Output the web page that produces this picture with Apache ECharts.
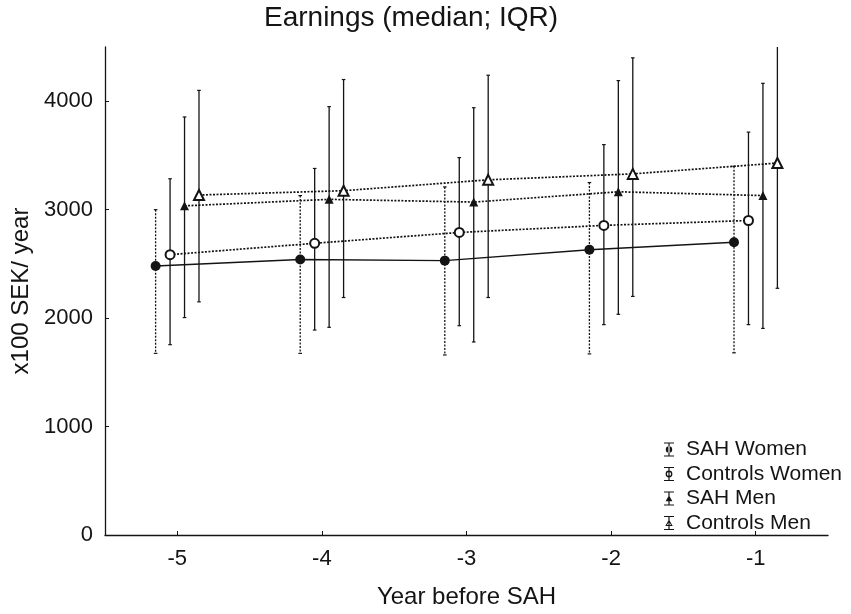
<!DOCTYPE html>
<html lang="en">
<head>
    <meta charset="UTF-8">
    <title>Earnings (median; IQR)</title>
    <script src="https://cdn.jsdelivr.net/npm/echarts@6.0.0/dist/echarts.min.js"></script>
    <style>
        html, body { margin: 0; padding: 0; background: #fff; }
    </style>
</head>
<body>
<div id="main" style="width: 851px;height:614px;"></div>
<script type="text/javascript">
    // years before SAH, groups are dodged a little on x
    var years = [-5, -4, -3, -2, -1];
    var xTicks = [-5, -4, -3, -2, -1];
    var yTicks = [0, 1000, 2000, 3000, 4000];
    var groupNames = ['SAH Women', 'Controls Women', 'SAH Men', 'Controls Men'];
    var dodge = [-0.15, -0.05, 0.05, 0.15];

    // medians and IQR (x100 SEK / year)
    var sahWomenMed = [2480, 2540, 2530, 2630, 2700];
    var sahWomenLow = [1675, 1675, 1660, 1670, 1680];
    var sahWomenHigh = [3000, 3130, 3210, 3250, 3400];

    var ctrlWomenMed = [2585, 2690, 2790, 2855, 2900];
    var ctrlWomenLow = [1755, 1890, 1930, 1940, 1940];
    var ctrlWomenHigh = [3285, 3380, 3480, 3600, 3715];

    var sahMenMed = [3035, 3095, 3070, 3165, 3130];
    var sahMenLow = [2005, 1915, 1780, 2035, 1905];
    var sahMenHigh = [3855, 3950, 3940, 4190, 4165];

    var ctrlMenMed = [3135, 3175, 3275, 3330, 3430];
    var ctrlMenLow = [2150, 2190, 2190, 2200, 2275];
    var ctrlMenHigh = [4100, 4200, 4240, 4400, 4520];

    var meds = [sahWomenMed, ctrlWomenMed, sahMenMed, ctrlMenMed];
    var lows = [sahWomenLow, ctrlWomenLow, sahMenLow, ctrlMenLow];
    var highs = [sahWomenHigh, ctrlWomenHigh, sahMenHigh, ctrlMenHigh];

    var ink = '#141414';
    var font = 'Liberation Sans, Arial, sans-serif';
    var dots = [2, 1.5];
    var symbols = ['circle', 'emptyCircle', 'triangle', 'emptyTriangle'];
    var symbolSizes = [10, 9, 9, 10];
    var lineDashes = ['solid', dots, dots, dots];
    var barDashes = [dots, null, null, null];

    // legend glyphs: error bar with the marker on it (10 x 14 box)
    var beam = 'M0,0H10V1H0Z M0,13H10V14H0Z M4.4,0H5.6V14H4.4Z ';
    var legendIcons = [
        'path://' + beam + 'M1.8,7A3.2,3.2,0,1,0,8.2,7A3.2,3.2,0,1,0,1.8,7Z',
        'path://' + beam + 'M1.6,7A3.4,3.4,0,1,1,8.4,7A3.4,3.4,0,1,1,1.6,7Z M2.9,7A2.1,2.1,0,1,0,7.1,7A2.1,2.1,0,1,0,2.9,7Z',
        'path://' + beam + 'M1.6,9.8L5,3.8L8.4,9.8Z',
        'path://' + beam + 'M1.3,10L5,3.5L8.7,10Z M3,9L7,9L5,5.5Z'
    ];

    function makeErrRender(dash) {
        return function (params, api) {
            var x = api.value(0);
            var top = api.coord([x, api.value(2)]);
            var bot = api.coord([x, api.value(1)]);
            var cap = 1.8;
            var st = { stroke: ink, lineWidth: 1.3, lineDash: dash || null };
            var capSt = { stroke: ink, lineWidth: 1.2 };
            return {
                type: 'group',
                children: [
                    { type: 'line', shape: { x1: top[0], y1: top[1], x2: bot[0], y2: bot[1] }, style: st },
                    { type: 'line', shape: { x1: top[0] - cap, y1: top[1], x2: top[0] + cap, y2: top[1] }, style: capSt },
                    { type: 'line', shape: { x1: bot[0] - cap, y1: bot[1], x2: bot[0] + cap, y2: bot[1] }, style: capSt }
                ]
            };
        };
    }

    var series = [];
    for (var g = 0; g < groupNames.length; g++) {
        var barData = [];
        var lineData = [];
        for (var i = 0; i < years.length; i++) {
            var x = years[i] + dodge[g];
            barData.push([x, lows[g][i], highs[g][i]]);
            lineData.push([x, meds[g][i]]);
        }
        series.push({
            name: groupNames[g],
            type: 'custom',
            renderItem: makeErrRender(barDashes[g]),
            encode: { x: 0, y: [1, 2] },
            data: barData,
            clip: true,
            silent: true,
            z: 1
        });
        series.push({
            name: groupNames[g],
            type: 'line',
            data: lineData,
            symbol: symbols[g],
            symbolSize: symbolSizes[g],
            showAllSymbol: true,
            lineStyle: { color: ink, width: g === 0 ? 1.4 : 1.7, type: lineDashes[g] },
            itemStyle: { color: ink, borderColor: ink, borderWidth: g === 1 || g === 3 ? 1.7 : 0 },
            emphasis: { disabled: true },
            silent: true,
            z: 3
        });
    }

    var legendData = [];
    for (var k = 0; k < groupNames.length; k++) {
        legendData.push({
            name: groupNames[k],
            icon: legendIcons[k],
            itemStyle: { color: ink, borderWidth: 0, opacity: 1 }
        });
    }

    var myChart = echarts.init(document.getElementById('main'));
    myChart.setOption({
        backgroundColor: '#fff',
        animation: false,
        textStyle: { fontFamily: font, color: ink },
        title: {
            text: 'Earnings (median; IQR)',
            left: 264,
            top: 4,
            padding: 0,
            textStyle: { fontSize: 28, fontWeight: 'normal', color: ink, fontFamily: font }
        },
        legend: {
            orient: 'vertical',
            left: 664,
            top: 439,
            padding: 0,
            itemWidth: 10,
            itemHeight: 14,
            itemGap: 3.5,
            selectedMode: false,
            textStyle: { fontSize: 21, color: ink, padding: [0, 0, 0, 7] },
            data: legendData
        },
        grid: { left: 105, right: 23, top: 47, bottom: 78 },
        xAxis: {
            type: 'value',
            min: -5.5,
            max: -0.5,
            name: 'Year before SAH',
            nameLocation: 'middle',
            nameGap: 50,
            nameTextStyle: { fontSize: 24, color: ink },
            axisLine: { show: true, lineStyle: { color: ink, width: 1.3 } },
            axisTick: { show: true, inside: true, length: 4, customValues: xTicks, lineStyle: { color: ink } },
            axisLabel: { fontSize: 22, color: ink, margin: 13, customValues: xTicks },
            splitLine: { show: false }
        },
        yAxis: {
            type: 'value',
            min: 0,
            max: 4500,
            name: 'x100 SEK/ year',
            nameLocation: 'middle',
            nameGap: 72,
            nameTextStyle: { fontSize: 24, color: ink },
            axisLine: { show: true, lineStyle: { color: ink, width: 1.3 } },
            axisTick: { show: true, inside: true, length: 4, customValues: yTicks, lineStyle: { color: ink } },
            axisLabel: {
                fontSize: 22, color: ink, margin: 12, customValues: yTicks,
                formatter: function (v) { return String(v); }
            },
            splitLine: { show: false }
        },
        series: series
    });
</script>
</body>
</html>
